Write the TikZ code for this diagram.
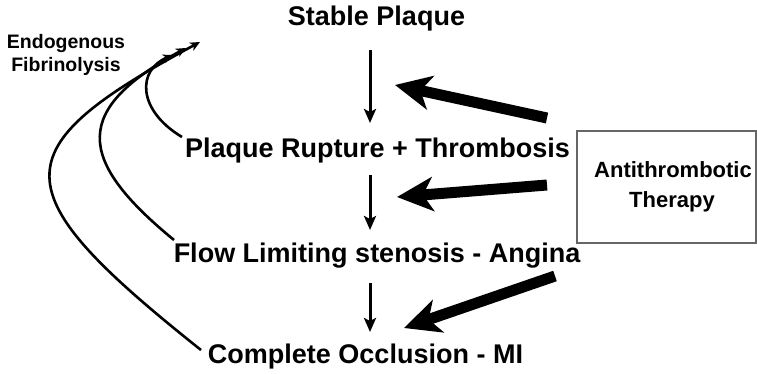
\documentclass[tikz,border=0pt]{standalone}
\usepackage{fontspec}
\setmainfont{Liberation Sans}
\usetikzlibrary{arrows.meta}
\begin{document}
\begin{tikzpicture}[x=1pt,y=-1pt,
  lbl/.style={font=\bfseries\fontsize{27}{30}\selectfont, inner sep=0pt, anchor=base},
  small/.style={font=\bfseries\fontsize{19.5}{23}\selectfont, inner sep=0pt, anchor=base},
  boxtxt/.style={font=\bfseries\fontsize{22}{30}\selectfont, inner sep=0pt, anchor=base},
  down/.style={line width=3pt, -{Stealth[length=14pt,width=12pt,inset=3pt]}},
  thick/.style={line width=11pt, -{Stealth[length=36pt,width=34pt,inset=10pt]}},
  fib/.style={line width=2.6pt, -{Stealth[length=10pt,width=9pt,inset=3pt]}}]
\useasboundingbox (0,0) rectangle (757,373);
% texts
\node[lbl] (sp) at (376.5,25) {Stable Plaque};
\node[lbl] (pr) at (377.5,157) {Plaque Rupture + Thrombosis};
\node[lbl] (fl) at (377,262) {Flow Limiting stenosis - Angina};
\node[lbl] (co) at (365.5,363) {Complete Occlusion - MI};
\node[small] (en) at (66,48) {Endogenous};
\node[small] (fi) at (66,71) {Fibrinolysis};
% box
\node[draw=black!60, line width=1.2pt, minimum width=179pt, minimum height=112pt, inner sep=0pt] (box) at (666.5,187) {};
\node[boxtxt] (an) at (673,177) {Antithrombotic};
\node[boxtxt] (th) at (672,207) {Therapy};
% down arrows
\coordinate (d1s) at (370,50);  \coordinate (d1e) at (370,123);
\coordinate (d2s) at (370,175); \coordinate (d2e) at (370,230);
\coordinate (d3s) at (370,283); \coordinate (d3e) at (370,332);
\draw[down] (d1s) -- (d1e);
\draw[down] (d2s) -- (d2e);
\draw[down] (d3s) -- (d3e);
% thick arrows from therapy
\coordinate (t1s) at (547,118); \coordinate (t1e) at (395,85);
\coordinate (t2s) at (547,185); \coordinate (t2e) at (397,197);
\coordinate (t3s) at (555,276); \coordinate (t3e) at (404,328);
\draw[thick] (t1s) -- (t1e);
\draw[thick] (t2s) -- (t2e);
\draw[thick] (t3s) -- (t3e);
% fibrinolysis curves
\coordinate (c1s) at (182,137); \coordinate (c1e) at (173,55);
\coordinate (c2s) at (174,240); \coordinate (c2e) at (186,48);
\coordinate (c3s) at (201,350); \coordinate (c3e) at (200,42);
\draw[fib] (c1s) .. controls (137,110) and (137,70) .. (c1e);
\draw[fib] (c2s) .. controls (74,158) and (74,109) .. (c2e);
\draw[fib] (c3s) .. controls (0,190) and (0,150) .. (c3e);
\end{tikzpicture}
\end{document}
